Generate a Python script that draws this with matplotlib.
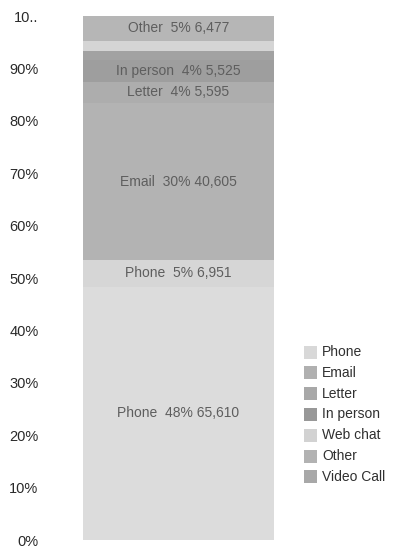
import matplotlib
matplotlib.use("Agg")
import matplotlib.pyplot as plt
from matplotlib.patches import Rectangle

plt.rcParams["font.family"] = ["Liberation Sans", "DejaVu Sans"]

# Stacked contact-channel volumes (bottom to top)
segment_names = ["Phone", "Phone", "Email", "Letter", "In person", "Video Call", "Web chat", "Other"]
segment_counts = [65610, 6951, 40605, 5595, 5525, 2400, 2600, 6477]
segment_pcts = [48, 5, 30, 4, 4, None, None, 5]
segment_colors = ["#dcdcdc", "#d6d6d6", "#b3b3b3", "#adadad", "#9e9e9e", "#a2a2a2", "#d5d5d5", "#b6b6b6"]

legend_names = ["Phone", "Email", "Letter", "In person", "Web chat", "Other", "Video Call"]
legend_colors = ["#d8d8d8", "#b0b0b0", "#a8a8a8", "#989898", "#d2d2d2", "#b2b2b2", "#a8a8a8"]

tick_values = [0, 10, 20, 30, 40, 50, 60, 70, 80, 90, 100]
tick_labels = ["0%", "10%", "20%", "30%", "40%", "50%", "60%", "70%", "80%", "90%", "10.."]

W, H = 405, 551
fig = plt.figure(figsize=(W / 100, H / 100), dpi=100)
fig.patch.set_facecolor("white")

ax = fig.add_axes([83 / W, 11 / H, 191 / W, 524 / H])
total = sum(segment_counts)
bottom = 0.0
for name, count, pct, color in zip(segment_names, segment_counts, segment_pcts, segment_colors):
    share = count / total * 100
    ax.bar(0, share, bottom=bottom, width=1.0, color=color, edgecolor="none")
    if pct is not None:
        ax.text(0, bottom + share / 2, f"{name}  {pct}% {count:,}",
                ha="center", va="center", fontsize=10, color="#5e5e5e")
    bottom += share

ax.set_xlim(-0.5, 0.5)
ax.set_ylim(0, 100)
ax.set_xticks([])
ax.set_yticks(tick_values)
ax.set_yticklabels(tick_labels, fontsize=10.5, color="#2a2a2a")
ax.tick_params(axis="y", length=0, pad=32)
for s in ax.spines.values():
    s.set_visible(False)

# Legend drawn in figure pixels
y0, step = 352, 20.8
for i, (name, color) in enumerate(zip(legend_names, legend_colors)):
    yc = y0 + i * step
    fig.patches.append(Rectangle(((304) / W, (H - yc - 6.5) / H), 13 / W, 13 / H,
                                 transform=fig.transFigure, facecolor=color,
                                 edgecolor="none"))
    fig.text(322 / W, (H - yc) / H, name, ha="left", va="center",
             fontsize=10, color="#303030")

fig.savefig("out.png", dpi=100, facecolor="white")
